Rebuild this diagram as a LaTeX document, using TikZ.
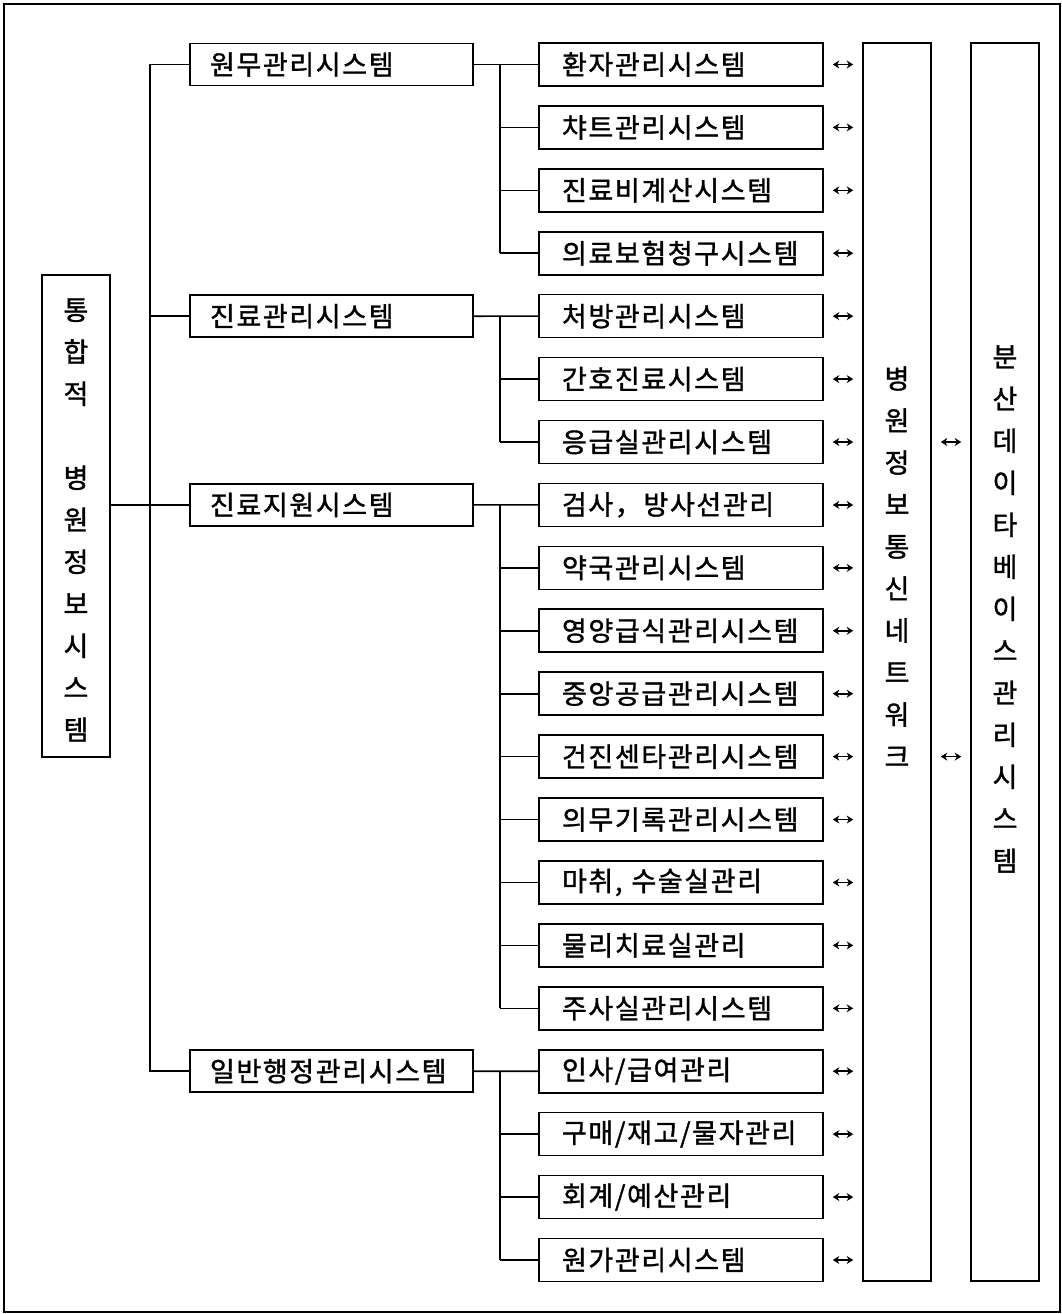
\documentclass[tikz,border=0pt]{standalone}
\usepackage{fontspec}
\setmainfont{Noto Sans CJK KR}[BoldFont={*},BoldFeatures={FakeBold=1.3,LetterSpace=6}]
\usetikzlibrary{arrows.meta}
\begin{document}
\begin{tikzpicture}[x=1pt,y=-1pt,
  box/.style={draw,line width=1.6pt,rectangle,inner sep=0pt},
  lone/.style={box,minimum width=283pt,minimum height=42pt,text width=243pt,align=left,font=\fontsize{27}{30}\bfseries},
  ltwo/.style={box,minimum width=284pt,minimum height=43pt,text width=238pt,align=left,font=\fontsize{27}{30}\bfseries},
  tall/.style={box,minimum width=68pt},
  vtext/.style={align=center,inner sep=0pt,font=\fontsize{27}{42}\bfseries},
  conn/.style={line width=1.6pt},
  dbl/.style={{Stealth[length=6.5pt,width=8pt]}-{Stealth[length=6.5pt,width=8pt]},line width=1.6pt,shorten <=9pt,shorten >=9pt}
]
\useasboundingbox (0,0) rectangle (1062,1314);
\draw[line width=1.2pt] (4,4) rectangle (1060,1312);

% level-2 boxes
\foreach \i/\t in {0/{환자관리시스템},1/{챠트관리시스템},2/{진료비계산시스템},3/{의료보험청구시스템},
  4/{처방관리시스템},5/{간호진료시스템},6/{응급실관리시스템},
  7/{검사，방사선관리},8/{약국관리시스템},9/{영양급식관리시스템},10/{중앙공급관리시스템},
  11/{건진센타관리시스템},12/{의무기록관리시스템},13/{마취, 수술실관리},14/{물리치료실관리},15/{주사실관리시스템},
  16/{인사/급여관리},17/{구매/재고/물자관리},18/{회계/예산관리},19/{원가관리시스템}}{
  \pgfmathsetmacro{\yy}{64.5+62.92*\i}
  \node[ltwo] (b\i) at (681,\yy) {\t};
}

% level-1 boxes
\node[lone] (a0) at (331.5,64.5) {원무관리시스템};
\node[lone] (a4) at (331.5,316.2) {진료관리시스템};
\node[lone] (a7) at (331.5,504.9) {진료지원시스템};
\node[lone] (a16) at (331.5,1071.2) {일반행정관리시스템};

% tall boxes
\node[tall,minimum height=482pt] (L) at (76,516) {};
\node[vtext] (Lt) at (76,520) {통\\합\\적\\\mbox{}\\병\\원\\정\\보\\시\\스\\템};
\node[tall,minimum height=1238pt] (net) at (897,662) {};
\node[vtext] (nett) at (897,566.5) {병\\원\\정\\보\\통\\신\\네\\트\\워\\크};
\node[tall,minimum height=1238pt] (db) at (1005,662) {};
\node[vtext] (dbt) at (1005,609) {분\\산\\데\\이\\타\\베\\이\\스\\관\\리\\시\\스\\템};

% trunks
\coordinate (tr) at (150,0);
\coordinate (st) at (500,0);
\draw[conn] (a0.west) -- (tr |- a0.west) -- (tr |- a16.west) -- (a16.west);
\draw[conn] (a4.west) -- (tr |- a4.west);
\draw[conn] (a7.west) -- (tr |- a7.west);
\draw[conn] (L.east |- a7.west) -- (tr |- a7.west);

% sub trunks
\draw[conn] (a0.east) -- (b0.west);
\draw[conn] (st |- b0.west) -- (st |- b3.west);
\foreach \j in {1,2,3}{\draw[conn] (st |- b\j.west) -- (b\j.west);}
\draw[conn] (a4.east) -- (b4.west);
\draw[conn] (st |- b4.west) -- (st |- b6.west);
\foreach \j in {5,6}{\draw[conn] (st |- b\j.west) -- (b\j.west);}
\draw[conn] (a7.east) -- (b7.west);
\draw[conn] (st |- b7.west) -- (st |- b15.west);
\foreach \j in {8,...,15}{\draw[conn] (st |- b\j.west) -- (b\j.west);}
\draw[conn] (a16.east) -- (b16.west);
\draw[conn] (st |- b16.west) -- (st |- b19.west);
\foreach \j in {17,18,19}{\draw[conn] (st |- b\j.west) -- (b\j.west);}

% arrows
\foreach \i in {0,...,19}{\draw[dbl] (b\i.east) -- (net.west |- b\i.east);}
\draw[dbl] (net.east |- b6.east) -- (db.west |- b6.east);
\draw[dbl] (net.east |- b11.east) -- (db.west |- b11.east);
\end{tikzpicture}
\end{document}
